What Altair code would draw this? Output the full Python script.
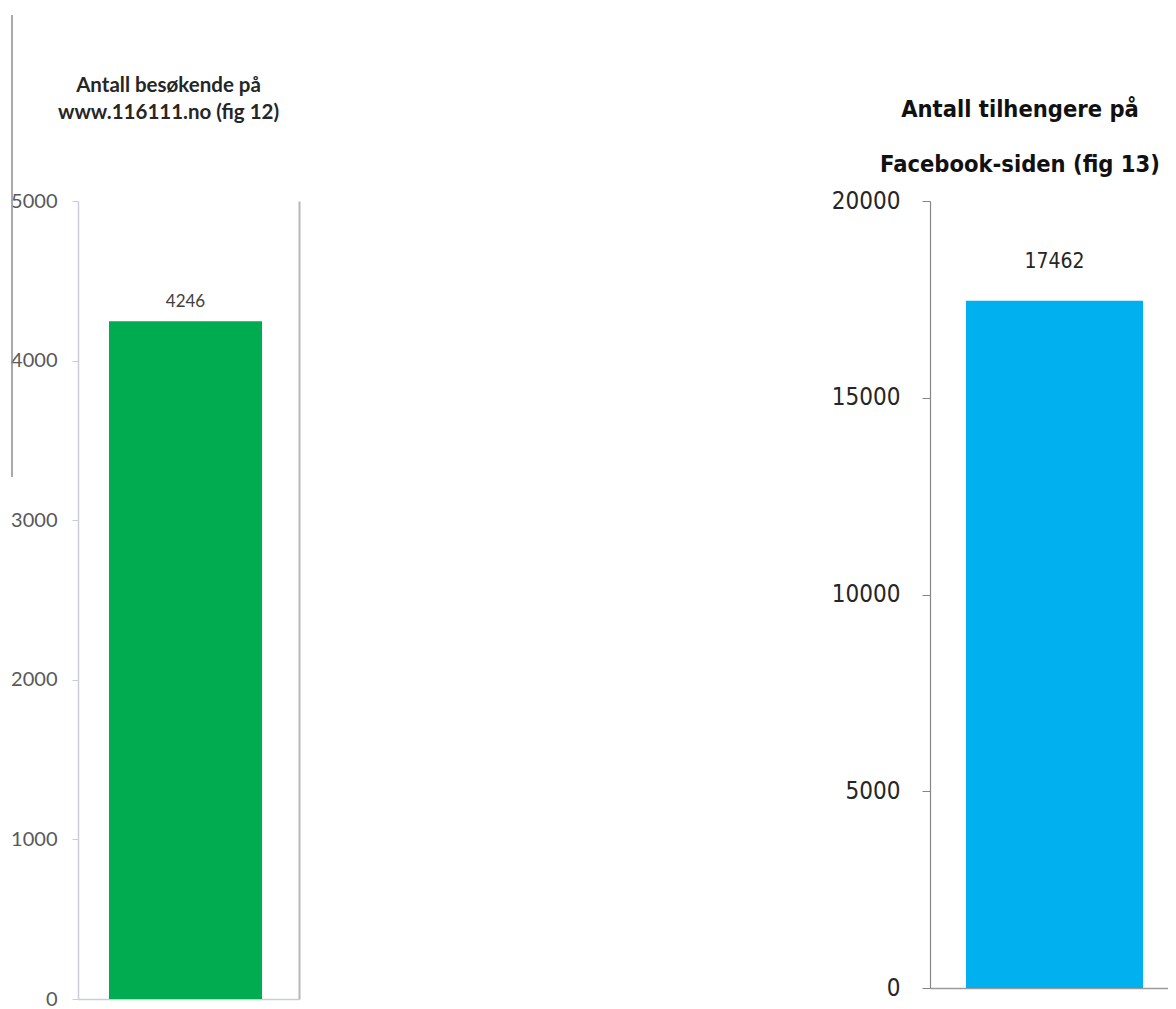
import altair as alt
import pandas as pd

# ---- data ----
kategori = ["3. kvartal 2013"]
besokende = [4246]          # fig 12: visitors on www.116111.no
tilhengere = [17462]        # fig 13: followers on the Facebook page

left_ticks = [0, 1000, 2000, 3000, 4000, 5000]
right_ticks = [0, 5000, 10000, 15000, 20000]

left_title = ["Antall besøkende på", "www.116111.no (fig 12)"]
right_title = ["Antall tilhengere på", "Facebook-siden (fig 13)"]

left_df = pd.DataFrame({"kategori": kategori, "verdi": besokende})
right_df = pd.DataFrame({"kategori": kategori, "verdi": tilhengere})

LFONT = "Lato"
RFONT = "DejaVu Sans Condensed, sans-serif"

# ---- left chart (fig 12) ----
lbase = alt.Chart(left_df)
lx = alt.X(
    "kategori:N",
    scale=alt.Scale(paddingInner=0, paddingOuter=0.222, align=0.456),
    axis=alt.Axis(labels=False, ticks=False, title=None,
                  domainColor="#c9ced6", domainWidth=1.5),
)
ly_scale = alt.Scale(domain=[0, 5000], nice=False)

lbar = lbase.mark_bar(color="#00ac4f").encode(
    x=lx,
    y=alt.Y("verdi:Q", scale=ly_scale,
            axis=alt.Axis(values=left_ticks, format="d", title=None, grid=False,
                          labelFont=LFONT, labelFontSize=20, labelColor="#595959",
                          tickColor="#c9ced6", tickSize=6, labelPadding=15,
                          domainColor="#c9ced6", domainWidth=1.5,
                          labelFlush=False)),
)
ltext = lbase.mark_text(baseline="alphabetic", dy=-14, font=LFONT,
                        fontSize=17, color="#404040").encode(
    x=alt.X("kategori:N"),
    y=alt.Y("verdi:Q", scale=ly_scale, axis=None),
    text=alt.Text("verdi:Q", format="d"),
)
lborder = lbase.mark_point(opacity=0).encode(
    x=alt.X("kategori:N"),
    y=alt.Y("verdi:Q", scale=ly_scale,
            axis=alt.Axis(orient="right", labels=False, ticks=False, title=None,
                          grid=False, domainColor="#b8b8b8", domainWidth=2)),
)
lrule = lbase.mark_rule(color="#8c8c8c", strokeWidth=1.5).encode(
    x=alt.value(-66), y=alt.value(-186), y2=alt.value(276)
)

left = alt.layer(lbar, ltext, lborder, lrule).resolve_axis(y="independent").properties(
    width=221, height=798,
    title=alt.TitleParams(text=left_title, font=LFONT, fontSize=20.5, fontWeight="bold",
                          color="#262626", lineHeight=27, anchor="middle",
                          frame="group", dx=-20, offset=-125, baseline="alphabetic"),
)

# ---- right chart (fig 13) ----
rbase = alt.Chart(right_df)
ry_scale = alt.Scale(domain=[0, 20000], nice=False)
rbar = rbase.mark_bar(color="#00b0ef").encode(
    x=alt.X("kategori:N",
            scale=alt.Scale(paddingInner=0, paddingOuter=0.1723, align=0.59),
            axis=alt.Axis(labels=False, ticks=False, title=None,
                          domainColor="#9a9a9a", domainWidth=1.5)),
    y=alt.Y("verdi:Q", scale=ry_scale,
            axis=alt.Axis(values=right_ticks, format="d", title=None, grid=False,
                          labelFont=RFONT, labelFontSize=24, labelColor="#262626",
                          tickColor="#868686", tickSize=8, labelPadding=22,
                          domainColor="#868686", domainWidth=1.2,
                          labelFlush=False)),
)
rtext = rbase.mark_text(baseline="alphabetic", dy=-33, font=RFONT,
                        fontSize=21, color="#262626").encode(
    x=alt.X("kategori:N"),
    y=alt.Y("verdi:Q", scale=ry_scale),
    text=alt.Text("verdi:Q", format="d"),
)
right = alt.layer(rbar, rtext).properties(
    width=238, height=787,
    title=alt.TitleParams(text=right_title, font=RFONT, fontSize=23.5, fontWeight="bold",
                          color="#111111", lineHeight=55, anchor="middle",
                          frame="group", dx=-29, offset=-6, baseline="alphabetic"),
)

chart = alt.hconcat(left, right, spacing=631, bounds="flush").properties(
    padding={"left": 2, "top": 6, "right": 0, "bottom": 0}
).configure_view(stroke=None)

chart.save("out.html", embed_options={"renderer": "svg", "actions": False})
